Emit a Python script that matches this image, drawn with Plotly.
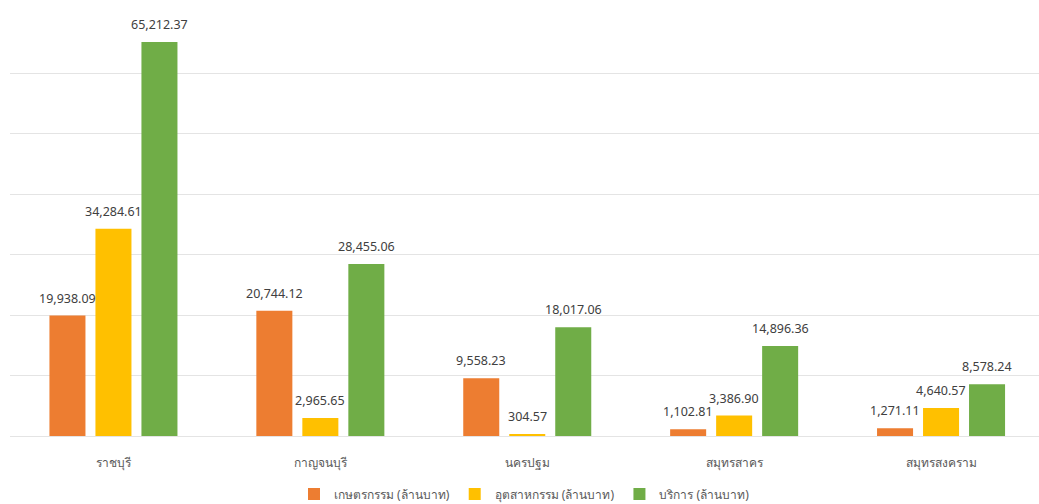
import plotly.graph_objects as go

categories = ["ราชบุรี", "กาญจนบุรี", "นครปฐม", "สมุทรสาคร", "สมุทรสงคราม"]
series_names = ["เกษตรกรรม (ล้านบาท)", "อุตสาหกรรม (ล้านบาท)", "บริการ (ล้านบาท)"]
agri = [19938.09, 20744.12, 9558.23, 1102.81, 1271.11]
industry = [34284.61, 2965.65, 304.57, 3386.90, 4640.57]
service = [65212.37, 28455.06, 18017.06, 14896.36, 8578.24]
colors = ["#ED7D31", "#FFC000", "#70AD47"]

FONT = "Noto Sans, Tahoma, sans-serif"

fig = go.Figure()
all_series = [agri, industry, service]
for name, vals, col in zip(series_names, all_series, colors):
    fig.add_trace(go.Bar(x=categories, y=vals, name=name, marker_color=col,
                         marker_line_width=0))

shifts = [-46, 0, 46]
annotations = []
for vals, sh in zip(all_series, shifts):
    for c, v in zip(categories, vals):
        annotations.append(dict(x=c, y=v, xref="x", yref="y", text=f"{v:,.2f}",
                                showarrow=False, xshift=sh, yshift=7, yanchor="bottom",
                                font=dict(family=FONT, size=12.5, color="#404040")))

fig.update_layout(
    width=1039, height=504,
    margin=dict(l=9.5, r=0, t=13, b=68, autoexpand=False),
    paper_bgcolor="white", plot_bgcolor="white",
    barmode="group", bargap=0.333, bargroupgap=0.217,
    font=dict(family=FONT, size=12, color="#595959"),
    annotations=annotations,
    showlegend=True,
    legend=dict(orientation="h", x=0.5, xanchor="center", y=-0.137, yanchor="middle",
                font=dict(family=FONT, size=12, color="#595959"), itemwidth=30,
                traceorder="normal"),
    xaxis=dict(type="category", range=[-0.5, 4.4734], showgrid=False, showline=False,
               ticks="", ticklabelstandoff=18, automargin=False,
               tickfont=dict(family=FONT, size=12, color="#595959")),
    yaxis=dict(range=[0, 70000], dtick=10000, showgrid=True, gridcolor="#E4E4E4",
               gridwidth=1, showticklabels=False, zeroline=True, zerolinecolor="#E4E4E4",
               zerolinewidth=1, ticks="", automargin=False),
)

fig.write_html("out.html")
